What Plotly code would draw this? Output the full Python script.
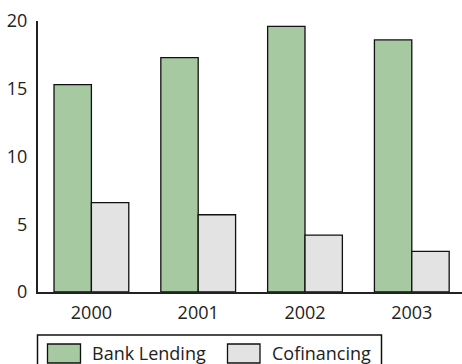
import plotly.graph_objects as go

years = ["2000", "2001", "2002", "2003"]
bank_lending = [15.3, 17.3, 19.6, 18.6]
cofinancing = [6.6, 5.7, 4.2, 3.0]
y_ticks = [0, 5, 10, 15, 20]

GREEN = "#a6c9a2"
GRAY = "#e3e3e3"
FONT = "Open Sans"

W, H = 462, 364
L, R, T, B = 38, 0, 21, 72
pw, ph = W - L - R, H - T - B

def px(x):
    return (x - L) / pw

def py(y):
    return (H - B - y) / ph

fig = go.Figure()
fig.add_bar(x=years, y=bank_lending, name="Bank Lending", marker=dict(color=GREEN, line=dict(color="#111", width=1.3)))
fig.add_bar(x=years, y=cofinancing, name="Cofinancing", marker=dict(color=GRAY, line=dict(color="#111", width=1.3)))

shapes = []
annotations = []
# legend box
shapes.append(dict(type="rect", xref="paper", yref="paper", x0=px(37.5), x1=px(381.5), y0=py(335), y1=py(375),
                   line=dict(color="#111", width=1.5), fillcolor="rgba(0,0,0,0)"))
for (x0, x1, tx, col, name) in [(47.5, 80.5, 90, GREEN, "Bank Lending"), (227.5, 260, 269.5, GRAY, "Cofinancing")]:
    shapes.append(dict(type="rect", xref="paper", yref="paper", x0=px(x0), x1=px(x1), y0=py(344), y1=py(363),
                       line=dict(color="#111", width=1.3), fillcolor=col))
    annotations.append(dict(xref="paper", yref="paper", x=px(tx), y=py(352.5), text=name, showarrow=False,
                            xanchor="left", yanchor="middle", font=dict(family=FONT, size=18, color="#222")))

fig.update_layout(
    width=W, height=H,
    margin=dict(l=L, r=R, t=T, b=B),
    paper_bgcolor="white", plot_bgcolor="white",
    barmode="group", bargap=0.3, bargroupgap=0,
    showlegend=False,
    shapes=shapes, annotations=annotations,
    font=dict(family=FONT, size=18, color="#222"),
    xaxis=dict(range=[-0.5, 3.47], showline=True, linecolor="#222", linewidth=2, ticks="", showgrid=False,
               ticklabelstandoff=3, tickfont=dict(size=18)),
    yaxis=dict(range=[0, 20], tickvals=y_ticks, showline=True, linecolor="#222", linewidth=2, ticks="",
               showgrid=False, zeroline=False, ticklabelstandoff=5, tickfont=dict(size=18)),
)
fig.write_html("out.html")
